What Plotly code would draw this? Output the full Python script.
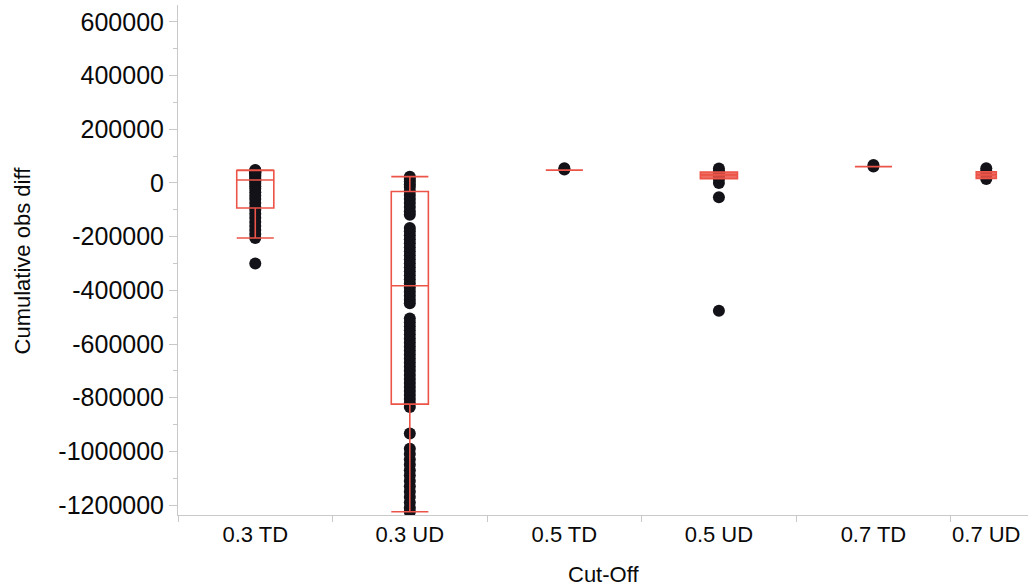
import plotly.graph_objects as go

# ---------------- data ----------------
categories = ["0.3 TD", "0.3 UD", "0.5 TD", "0.5 UD", "0.7 TD", "0.7 UD"]

pts_03_td = [48000, 46000, 45000, 43000, 40000, 37000, 33000, 28000, 22000, 16000,
             11000, 5000, -3000, -12000, -22000, -35000, -48000, -60000, -75000,
             -90000, -100000, -115000, -130000, -145000, -160000, -175000, -190000,
             -205000, -300000]
pts_03_ud = [23000, 15000, 5000, -5000, -15000, -30000, -45000, -60000, -75000, -90000,
             -105000, -118000,
             -168000, -180000, -195000, -210000, -225000, -240000, -255000, -270000,
             -285000, -300000, -315000, -330000, -345000, -360000, -375000, -390000,
             -405000, -420000, -435000, -448000,
             -505000, -520000, -535000, -550000, -565000, -580000, -595000, -610000,
             -625000, -640000, -655000, -670000, -685000, -700000, -715000, -730000,
             -745000, -760000, -775000, -790000, -805000, -820000, -835000,
             -933000,
             -990000, -1010000, -1030000, -1050000, -1070000, -1090000, -1110000,
             -1130000, -1150000, -1170000, -1190000, -1210000, -1225000]
pts_05_td = [55000, 50000]
pts_05_ud = [54000, 45000, 40000, 35000, 30000, 28000, 25000, 20000, 15000, 0,
             -53000, -476000]
pts_07_td = [67000, 61000]
pts_07_ud = [55000, 45000, 30000, 15000]

points = [pts_03_td, pts_03_ud, pts_05_td, pts_05_ud, pts_07_td, pts_07_ud]

# box summary (as drawn in the reference)
q1 = [-93000, -824000, 48000, 16000, 61000, 17000]
median = [11000, -383000, 48000, 30000, 61000, 30000]
q3 = [46500, -32000, 48000, 41000, 61000, 42000]
lower_fence = [-205000, -1225000, 48000, 16000, 61000, 17000]
upper_fence = [48000, 23500, 48000, 41000, 61000, 42000]

y_tick_vals = [600000, 400000, 200000, 0, -200000, -400000, -600000, -800000,
               -1000000, -1200000]
y_tick_text = ["600000", "400000", "200000", "0", "-200000", "-400000", "-600000",
               "-800000", "-1000000", "-1200000"]

# ---------------- layout constants ----------------
cat_pos = [0, 1, 2, 3, 4, 4.73]
box_w = [0.24, 0.24, 0.24, 0.24, 0.24, 0.13]
filled = ["0.5 UD", "0.7 UD"]
DOT = "#121218"
RED = "rgb(236,84,72)"
AXIS = "#c9c9c9"
TXT = "#0a0a0a"
CLEAR = "rgba(0,0,0,0)"

fig = go.Figure()

# points (drawn as box-trace points so the red boxes can sit on top of them)
for cat, xp, vals in zip(categories, cat_pos, points):
    fig.add_trace(go.Box(
        x=[xp] * len(vals), y=vals, name=cat,
        boxpoints="all", jitter=0, pointpos=0, width=0.0001,
        line=dict(color=CLEAR, width=0), fillcolor=CLEAR,
        marker=dict(size=12, color=DOT, line=dict(width=0)),
        hoveron="points", showlegend=False))

for i, cat in enumerate(categories):
    fill = "rgba(236,84,72,0.85)" if cat in filled else CLEAR
    fig.add_trace(go.Box(
        x=[cat_pos[i]], q1=[q1[i]], median=[median[i]], q3=[q3[i]],
        lowerfence=[lower_fence[i]], upperfence=[upper_fence[i]],
        width=box_w[i], whiskerwidth=1, boxpoints=False,
        line=dict(color=RED, width=1.6), fillcolor=fill,
        name=cat, showlegend=False))

fig.update_layout(
    width=1030, height=588,
    margin=dict(l=178, r=2, t=5, b=73),
    paper_bgcolor="white", plot_bgcolor="white",
    font=dict(family="Liberation Sans, Arial, sans-serif", color=TXT),
    showlegend=False, boxmode="overlay",
)

fig.update_xaxes(
    range=[-0.5, 5.0], tickmode="array", tickvals=cat_pos, ticktext=categories,
    tickfont=dict(family="Liberation Sans, Arial", size=22, color=TXT),
    showgrid=False, zeroline=False, showline=True, linecolor=AXIS, linewidth=1,
    ticks="outside", ticklen=0, tickcolor=AXIS,
    minor=dict(tick0=-0.5, dtick=1, ticks="outside", ticklen=6, tickcolor=AXIS,
               showgrid=False),
)

fig.update_yaxes(
    range=[-1237000, 663000], tickmode="array", tickvals=y_tick_vals,
    ticktext=y_tick_text,
    tickfont=dict(family="Liberation Sans, Arial", size=25, color=TXT),
    showgrid=False, zeroline=False, showline=True, linecolor=AXIS, linewidth=1,
    ticks="outside", ticklen=8, tickcolor=AXIS,
    minor=dict(dtick=100000, tick0=0, ticks="outside", ticklen=4, tickcolor=AXIS,
               showgrid=False),
)

fig.add_annotation(text="Cumulative obs diff", xref="paper", yref="paper",
                   x=-0.183, y=0.5, xanchor="center", yanchor="middle",
                   textangle=-90, showarrow=False,
                   font=dict(family="Liberation Sans, Arial", size=22, color=TXT))
fig.add_annotation(text="Cut-Off", xref="paper", yref="paper",
                   x=0.5, y=-0.116, xanchor="center", yanchor="middle",
                   showarrow=False,
                   font=dict(family="Liberation Sans, Arial", size=22, color=TXT))

fig.write_html(
    "out.html",
    config={"displayModeBar": False},
    post_script="document.body.style.margin='0';document.body.style.overflow='hidden';",
)
